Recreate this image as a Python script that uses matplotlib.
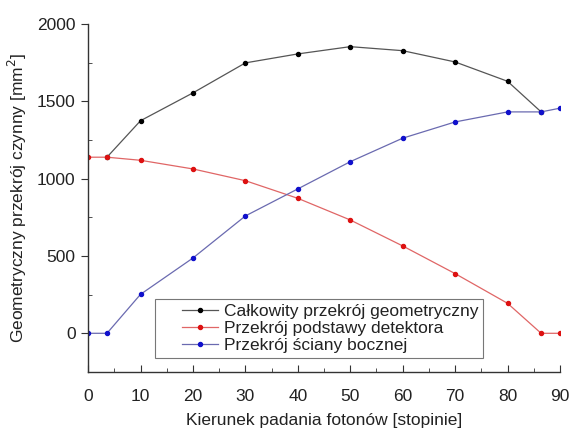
import matplotlib
matplotlib.use("Agg")
import matplotlib.pyplot as plt
from matplotlib.ticker import MultipleLocator
from matplotlib.legend_handler import HandlerLine2D

plt.rcParams['font.family'] = ['Liberation Sans', 'DejaVu Sans']

x_total = [3.6, 10, 20, 30, 40, 50, 60, 70, 80, 86.4]
y_total = [1139, 1375, 1555, 1749, 1807, 1854, 1828, 1755, 1630, 1432]

x_base = [0, 3.6, 10, 20, 30, 40, 50, 60, 70, 80, 86.4, 90]
y_base = [1139, 1139, 1119, 1063, 987, 873, 733, 565, 386, 194, 0, 0]

x_side = [0, 3.6, 10, 20, 30, 40, 50, 60, 70, 80, 86.4, 90]
y_side = [0, 0, 252, 487, 759, 934, 1110, 1262, 1367, 1432, 1432, 1456]

labels = ["Całkowity przekrój geometryczny",
          "Przekrój podstawy detektora",
          "Przekrój ściany bocznej"]


class OffsetHandler(HandlerLine2D):
    def __init__(self, offset_frac=0.38, **kw):
        super().__init__(**kw)
        self.offset_frac = offset_frac

    def create_artists(self, legend, orig_handle, xdescent, ydescent,
                       width, height, fontsize, trans):
        off = width * self.offset_frac
        return super().create_artists(legend, orig_handle, xdescent - off,
                                      ydescent, width - off, height,
                                      fontsize, trans)


fig = plt.figure(figsize=(5.72, 4.30), dpi=100)
ax = fig.add_axes([0.154, 0.135, 0.825, 0.809])

ax.plot(x_total, y_total, color='#555555', lw=0.9, marker='o', ms=2.9,
        mfc='black', mec='black', label=labels[0])
ax.plot(x_base, y_base, color='#e06666', lw=0.9, marker='o', ms=2.9,
        mfc='#dd1111', mec='#dd1111', label=labels[1])
ax.plot(x_side, y_side, color='#6a6ab0', lw=0.9, marker='o', ms=2.9,
        mfc='#1010cc', mec='#1010cc', label=labels[2])

ax.set_xlim(0, 90)
ax.set_ylim(-250, 2000)
ax.xaxis.set_major_locator(MultipleLocator(10))
ax.xaxis.set_minor_locator(MultipleLocator(5))
ax.yaxis.set_major_locator(MultipleLocator(500))
ax.yaxis.set_minor_locator(MultipleLocator(250))

for s in ['top', 'right']:
    ax.spines[s].set_visible(False)
for s in ['left', 'bottom']:
    ax.spines[s].set_color('#333333')
    ax.spines[s].set_linewidth(1.0)

ax.tick_params(axis='x', which='major', direction='in', length=5, labelsize=12.5, pad=12, colors='#333333')
ax.tick_params(axis='x', which='minor', direction='in', length=3, colors='#333333')
ax.tick_params(axis='y', which='major', direction='out', length=5, labelsize=12.5, pad=4, colors='#333333')
ax.tick_params(axis='y', which='minor', direction='in', length=3, colors='#333333')
for lab in ax.get_xticklabels() + ax.get_yticklabels():
    lab.set_color('#222222')

ax.set_xlabel("Kierunek padania fotonów [stopinie]", fontsize=12.5, color='#222222', labelpad=6.5)
ax.set_ylabel("Geometryczny przekrój czynny [mm$^2$]", fontsize=12.5, color='#222222', labelpad=6)

handles, labs = ax.get_legend_handles_labels()
leg = ax.legend(handles, labs, loc='lower left', bbox_to_anchor=(0.142, 0.04),
                fontsize=12.5, frameon=True, fancybox=False, edgecolor='#555555',
                handlelength=3.3, borderpad=0.3, labelspacing=0.1,
                handletextpad=0.35, borderaxespad=0,
                handler_map={h: OffsetHandler() for h in handles})
leg.get_frame().set_linewidth(0.8)
for t in leg.get_texts():
    t.set_color('#222222')

fig.savefig("out.png", dpi=100)
